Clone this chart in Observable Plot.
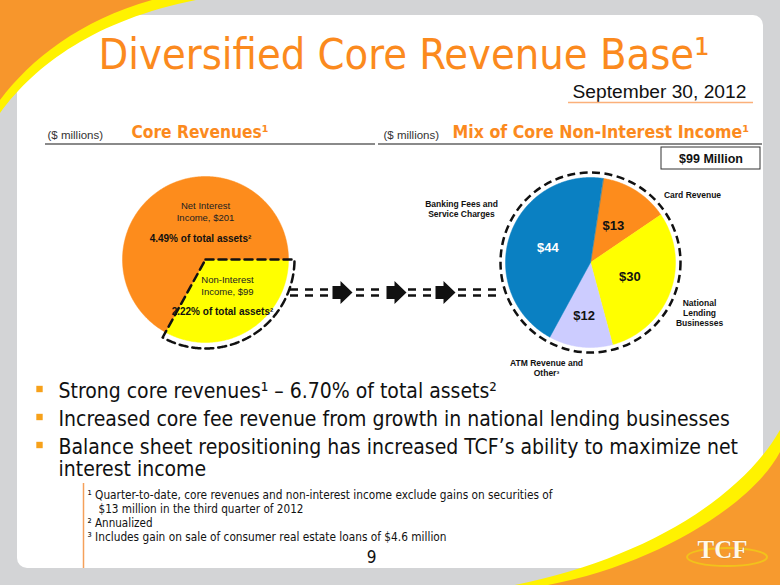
<!DOCTYPE html>
<html>
<head>
<meta charset="utf-8">
<script src="https://cdn.jsdelivr.net/npm/d3@7"></script>
<script src="https://cdn.jsdelivr.net/npm/@observablehq/plot@0.6"></script>
<style>
html, body { margin: 0; padding: 0; background: #d3d4d6; }
#slide { position: relative; width: 780px; height: 585px; overflow: hidden; }
#bg, #chart { position: absolute; left: 0; top: 0; }
[font-family*="Condensed"] { font-stretch: condensed; }
</style>
</head>
<body>
<div id="slide">
  <svg id="bg" width="780" height="585" xmlns="http://www.w3.org/2000/svg">
    <rect width="780" height="585" fill="#d3d4d6"/>
    <rect x="17" y="15" width="746" height="553" rx="10" fill="#ffffff"/>
    <path d="M0,0 L196,0 C96,20 36,64 0,113 Z" fill="#fff200"/>
    <path d="M0,0 L152,0 C80,20 30,60 0,100 Z" fill="#f7962c"/>
    <path d="M515,585 C640,560 740,500 780,430 L780,585 Z" fill="#fff200"/>
    <path d="M548,585 C655,565 752,505 780,452 L780,585 Z" fill="#f79a2e"/>
    <ellipse cx="727" cy="557" rx="40" ry="9" fill="none" stroke="#f2c21b" stroke-width="2"/>
  </svg>
  <div id="chart"></div>
</div>
<script>
// ---------- data ----------
const titleText = "Diversified Core Revenue Base¹";
const dateText = "September 30, 2012";
const unitText = "($ millions)";
const leftHeading = "Core Revenues¹";
const rightHeading = "Mix of Core Non-Interest Income¹";

const coreCategories = ["Non-Interest Income", "Net Interest Income"];
const coreValues = [99, 201];
const coreLabels = ["Non-Interest\nIncome, $99", "Net Interest\nIncome, $201"];
const coreAssetShare = ["2.22% of total assets²", "4.49% of total assets²"];

const mixCategories = ["Card Revenue", "National Lending Businesses", "ATM Revenue and Other", "Banking Fees and Service Charges"];
const mixValues = [13, 30, 12, 44];
const mixNames = ["Card Revenue", "National\nLending\nBusinesses", "ATM Revenue and\nOther³", "Banking Fees and\nService Charges"];
const mixTotal = "$99 Million";

const bulletLines = [
  "Strong core revenues¹ – 6.70% of total assets²",
  "Increased core fee revenue from growth in national lending businesses",
  "Balance sheet repositioning has increased TCF’s ability to maximize net\ninterest income"
];
const footnotes = [
  "¹ Quarter-to-date, core revenues and non-interest income exclude gains on securities of",
  "$13 million in the third quarter of 2012",
  "² Annualized",
  "³ Includes gain on sale of consumer real estate loans of $4.6 million"
];
const pageNumber = "9";
const logoText = "TCF";

// ---------- styles / layout ----------
const COND = "'DejaVu Sans Condensed', 'DejaVu Sans', sans-serif";
const ARIAL = "'Liberation Sans', Arial, sans-serif";
const ORANGE = "#fb8a1e";
const allCategories = [...coreCategories, ...mixCategories];
const sliceColors = ["#ffff00", "#fd8c1c", "#fd8c1c", "#ffff00", "#ccccff", "#0a80c2"];

const coreGeom = {cx: 205, cy: 259, r: 83, start: Math.PI / 2};
const mixGeom = {cx: 590, cy: 262, r: 85, start: 0.15};
const coreLabelPos = [{x: 227, y: 294}, {x: 205, y: 220}];
const coreSharePos = [{x: 222, y: 314}, {x: 200, y: 241}];
const mixLabelRadius = [43, 42, 54, 45];
const mixNamePos = [{x: 692, y: 197.5}, {x: 699, y: 325.5}, {x: 546, y: 375.5}, {x: 461, y: 216.5}];
const bulletBaselines = [397, 425, 475];
const bulletDotY = [388.5, 416.5, 444.5];
const footX = [87, 98, 87, 87];
const footY = [498, 512, 526, 540];
const footWidths = [465, 205, 65, 359];

// ---------- pie geometry from values ----------
function pieRows(cats, vals, start) {
  const arcs = d3.pie().sort(null).startAngle(start).endAngle(start + 2 * Math.PI)(vals);
  return arcs.map((a, i) => ({cat: cats[i], value: vals[i], a0: a.startAngle, a1: a.endAngle, mid: (a.startAngle + a.endAngle) / 2, i}));
}
function arcPoints(d, g, r, withCenter) {
  const pts = withCenter ? [{cat: d.cat, x: g.cx, y: g.cy}] : [];
  const n = Math.max(2, Math.ceil((d.a1 - d.a0) / 0.01));
  for (let k = 0; k <= n; k++) {
    const a = d.a0 + (d.a1 - d.a0) * k / n;
    pts.push({cat: d.cat, x: g.cx + r * Math.sin(a), y: g.cy - r * Math.cos(a)});
  }
  return pts;
}
const coreRows = pieRows(coreCategories, coreValues, coreGeom.start);
const mixRows = pieRows(mixCategories, mixValues, mixGeom.start);
const corePts = coreRows.flatMap(d => arcPoints(d, coreGeom, coreGeom.r, true));
const mixPts = mixRows.flatMap(d => arcPoints(d, mixGeom, mixGeom.r, true));
const outlinePts = arcPoints(coreRows[0], coreGeom, coreGeom.r + 6, true);

// connector
const connectorY = [289, 295];
const connectorSpans = [[290, 330], [356, 385], [408, 433], [458, 500]];
const connectorSegs = connectorY.flatMap(y => connectorSpans.map(([x1, x2]) => ({y, x1, x2})));
const arrowX = [342, 396, 445];
const blockArrow = {
  draw(ctx, size) {
    const s = Math.sqrt(size / Math.PI) / 10;
    ctx.moveTo(-10 * s, -6.5 * s);
    ctx.lineTo(-2 * s, -6.5 * s);
    ctx.lineTo(-2 * s, -11.5 * s);
    ctx.lineTo(10 * s, 0);
    ctx.lineTo(-2 * s, 11.5 * s);
    ctx.lineTo(-2 * s, 6.5 * s);
    ctx.lineTo(-10 * s, 6.5 * s);
    ctx.closePath();
  }
};

const txt = (s, o) => Plot.text([s], {text: d => d, lineAnchor: "bottom", ...o});

const chart = Plot.plot({
  width: 780,
  height: 585,
  margin: 0,
  style: {background: "transparent", overflow: "visible"},
  x: {domain: [0, 780], range: [0, 780], axis: null},
  y: {domain: [0, 585], range: [0, 585], axis: null},
  color: {type: "ordinal", domain: allCategories, range: sliceColors},
  marks: [
    // title + date
    txt(titleText, {x: 98, y: 68, textAnchor: "start", fontSize: 43, fontFamily: COND, fill: ORANGE}),
    txt(dateText, {x: 572, y: 97, textAnchor: "start", fontSize: 19.2, fontFamily: ARIAL, fill: "#111"}),
    Plot.ruleY([{y: 102, x1: 568, x2: 753}], {y: "y", x1: "x1", x2: "x2", stroke: "#fbb07a", strokeWidth: 1.5}),
    // headings
    txt(unitText, {x: 47, y: 138, textAnchor: "start", fontSize: 11.5, fontFamily: ARIAL, fill: "#333"}),
    txt(unitText, {x: 383, y: 138, textAnchor: "start", fontSize: 11.5, fontFamily: ARIAL, fill: "#333"}),
    txt(leftHeading, {x: 131, y: 137, textAnchor: "start", fontSize: 17.2, fontWeight: "bold", fontFamily: COND, fill: ORANGE}),
    txt(rightHeading, {x: 452, y: 137, textAnchor: "start", fontSize: 17.6, fontWeight: "bold", fontFamily: COND, fill: ORANGE}),
    Plot.ruleY([{y: 143.5, x1: 45, x2: 375}, {y: 143.5, x1: 378, x2: 762}], {y: "y", x1: "x1", x2: "x2", stroke: "#8a8a8a", strokeWidth: 2}),
    Plot.rect([mixTotal], {x1: 661, x2: 760, y1: 147, y2: 169, fill: "white", stroke: "#333", strokeWidth: 1}),
    txt(mixTotal, {x: 710.5, y: 162.5, fontSize: 12.5, fontWeight: "bold", fontFamily: ARIAL, fill: "#111"}),
    // core pie
    Plot.line(corePts, {x: "x", y: "y", z: "cat", fill: "cat", stroke: "cat", strokeWidth: 0.5, curve: "linear-closed"}),
    Plot.line(outlinePts, {x: "x", y: "y", curve: "linear-closed", fill: "none", stroke: "#111", strokeWidth: 2.5, strokeDasharray: "8,5"}),
    Plot.text(coreRows, {x: d => coreLabelPos[d.i].x, y: d => coreLabelPos[d.i].y, text: d => coreLabels[d.i], lineAnchor: "bottom", lineHeight: 1.16, fontSize: 9.5, fontFamily: ARIAL, fill: "#222"}),
    Plot.text(coreRows, {x: d => coreSharePos[d.i].x, y: d => coreSharePos[d.i].y, text: d => coreAssetShare[d.i], lineAnchor: "bottom", fontSize: 10, fontWeight: "bold", fontFamily: ARIAL, fill: "#111"}),
    // connector
    Plot.ruleY(connectorSegs, {y: "y", x1: "x1", x2: "x2", stroke: "#111", strokeWidth: 2.5, strokeDasharray: "8,7"}),
    Plot.dot(arrowX, {x: d => d, y: () => 292, r: 10, symbol: blockArrow, fill: "#111", stroke: "none"}),
    // mix pie
    Plot.line(mixPts, {x: "x", y: "y", z: "cat", fill: "cat", stroke: "cat", strokeWidth: 0.5, curve: "linear-closed"}),
    Plot.dot([mixGeom], {x: "cx", y: "cy", r: 90, fill: "none", stroke: "#111", strokeWidth: 2.5, strokeDasharray: "8,4.5"}),
    Plot.text(mixRows, {
      x: d => mixGeom.cx + mixLabelRadius[d.i] * Math.sin(d.mid),
      y: d => mixGeom.cy - mixLabelRadius[d.i] * Math.cos(d.mid),
      text: d => "$" + d.value, fontSize: 13, fontWeight: "bold", fontFamily: ARIAL,
      fill: d => d.i === 3 ? "white" : "#111"
    }),
    Plot.text(mixRows, {x: d => mixNamePos[d.i].x, y: d => mixNamePos[d.i].y, text: d => mixNames[d.i], lineAnchor: "bottom", lineHeight: 1.2, fontSize: 8.5, fontWeight: "bold", fontFamily: ARIAL, fill: "#111"}),
    // bullets
    Plot.dot(bulletDotY, {x: () => 39, y: d => d, r: 3.6, symbol: "square", fill: "#f7a11a", stroke: "none"}),
    Plot.text(bulletLines, {x: () => 58, y: (d, i) => bulletBaselines[i], text: d => d, textAnchor: "start", lineAnchor: "bottom", lineHeight: 1.048, fontSize: 21, fontFamily: COND, fill: "#111"}),
    // footnotes
    Plot.ruleX([83], {y1: 483, y2: 568, stroke: "#f5a05a", strokeWidth: 1.5}),
    Plot.text(footnotes, {x: (d, i) => footX[i], y: (d, i) => footY[i], text: d => d, textAnchor: "start", lineAnchor: "bottom", fontSize: 13, fontFamily: COND, fill: "#111"}),
    txt(pageNumber, {x: 371, y: 562, fontSize: 17, fontFamily: COND, fill: "#111"}),
    txt(logoText, {x: 722, y: 557, fontSize: 25, fontWeight: "bold", fontFamily: "'Liberation Serif', 'DejaVu Serif', serif", fill: "#fff8ea", stroke: "#c9852c", strokeWidth: 0.6})
  ]
});
// fit footnote lines to the reference widths (narrow face)
chart.querySelectorAll("text").forEach(t => {
  const k = footnotes.indexOf(t.textContent);
  if (k >= 0) {
    t.setAttribute("textLength", footWidths[k]);
    t.setAttribute("lengthAdjust", "spacingAndGlyphs");
  }
});
document.getElementById("chart").appendChild(chart);
</script>
</body>
</html>
